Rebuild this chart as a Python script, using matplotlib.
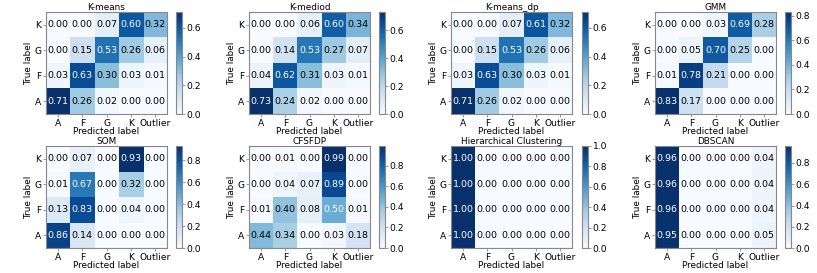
import numpy as np
import matplotlib
matplotlib.use("Agg")
import matplotlib.pyplot as plt

classes = ["A", "F", "G", "K", "Outlier"]
rows = ["A", "F", "G", "K"]

titles = ["K-means", "K-mediod", "K-means_dp", "GMM",
          "SOM", "CFSFDP", "Hierarchical Clustering", "DBSCAN"]

# rows: A, F, G, K ; cols: A, F, G, K, Outlier
kmeans = [[0.71, 0.26, 0.02, 0.00, 0.00],
          [0.03, 0.63, 0.30, 0.03, 0.01],
          [0.00, 0.15, 0.53, 0.26, 0.06],
          [0.00, 0.00, 0.07, 0.60, 0.32]]
kmediod = [[0.73, 0.24, 0.02, 0.00, 0.00],
           [0.04, 0.62, 0.31, 0.03, 0.01],
           [0.00, 0.14, 0.53, 0.27, 0.07],
           [0.00, 0.00, 0.06, 0.60, 0.34]]
kmeans_dp = [[0.71, 0.26, 0.02, 0.00, 0.00],
             [0.03, 0.63, 0.30, 0.03, 0.01],
             [0.00, 0.15, 0.53, 0.26, 0.06],
             [0.00, 0.00, 0.07, 0.61, 0.32]]
gmm = [[0.83, 0.17, 0.00, 0.00, 0.00],
       [0.01, 0.78, 0.21, 0.00, 0.00],
       [0.00, 0.05, 0.70, 0.25, 0.00],
       [0.00, 0.00, 0.03, 0.69, 0.28]]
som = [[0.86, 0.14, 0.00, 0.00, 0.00],
       [0.13, 0.83, 0.00, 0.04, 0.00],
       [0.01, 0.67, 0.00, 0.32, 0.00],
       [0.00, 0.07, 0.00, 0.93, 0.00]]
cfsfdp = [[0.44, 0.34, 0.00, 0.03, 0.18],
          [0.01, 0.40, 0.08, 0.50, 0.01],
          [0.00, 0.04, 0.07, 0.89, 0.00],
          [0.00, 0.01, 0.00, 0.99, 0.00]]
hierarchical = [[1.00, 0.00, 0.00, 0.00, 0.00],
                [1.00, 0.00, 0.00, 0.00, 0.00],
                [1.00, 0.00, 0.00, 0.00, 0.00],
                [1.00, 0.00, 0.00, 0.00, 0.00]]
dbscan = [[0.95, 0.00, 0.00, 0.00, 0.05],
          [0.96, 0.00, 0.00, 0.00, 0.04],
          [0.96, 0.00, 0.00, 0.00, 0.04],
          [0.96, 0.00, 0.00, 0.00, 0.04]]

matrices = [kmeans, kmediod, kmeans_dp, gmm, som, cfsfdp, hierarchical, dbscan]

W, H = 817, 273
fig = plt.figure(figsize=(W / 100, H / 100), dpi=100)

FS_ANN = 6.8
FS_TICK = 6.6
FS_TITLE = 6.4
FS_LABEL = 6.4
lefts = [46, 249, 451, 655]
cb_lefts = [176, 379, 582, 785]
ax_w = 121
tops = [12, 146]
ax_h = 102
cb_w = 6
edge = "#888888"

for i, (mat, title) in enumerate(zip(matrices, titles)):
    r, c = divmod(i, 4)
    m = np.array(mat)
    x0 = lefts[c]
    y0 = tops[r]
    ax = fig.add_axes([x0 / W, 1 - (y0 + ax_h) / H, ax_w / W, ax_h / H])
    im = ax.imshow(m, cmap="Blues", origin="lower", aspect="auto",
                   vmin=0, vmax=m.max(), interpolation="nearest")
    ax.set_xticks(range(len(classes)))
    ax.set_xticklabels(classes, fontsize=FS_TICK)
    ax.set_yticks(range(len(rows)))
    ax.set_yticklabels(rows, fontsize=FS_TICK)
    ax.tick_params(length=2.5, width=0.6, pad=1, color=edge)
    for s in ax.spines.values():
        s.set_color(edge)
        s.set_linewidth(0.8)
    ax.set_title(title, fontsize=FS_TITLE, pad=1.5)
    ax.set_xlabel("Predicted label", fontsize=FS_LABEL, labelpad=-0.5)
    ax.set_ylabel("True label", fontsize=FS_LABEL, labelpad=1)
    thr = 0.505 * m.max()
    for yi in range(m.shape[0]):
        for xi in range(m.shape[1]):
            v = m[yi, xi]
            ax.text(xi, yi, f"{v:.2f}", ha="center", va="center",
                    fontsize=FS_ANN, color="white" if v > thr else "black")
    cax = fig.add_axes([cb_lefts[c] / W, 1 - (y0 + ax_h) / H, cb_w / W, ax_h / H])
    cb = fig.colorbar(im, cax=cax)
    cb.ax.tick_params(labelsize=FS_TICK, length=2.5, width=0.6, pad=1, color=edge)
    cb.outline.set_edgecolor(edge)
    cb.outline.set_linewidth(0.8)
    cb.locator = matplotlib.ticker.MultipleLocator(0.2)
    cb.formatter = matplotlib.ticker.FormatStrFormatter("%.1f")
    cb.update_ticks()

fig.savefig("out.png", dpi=100)
